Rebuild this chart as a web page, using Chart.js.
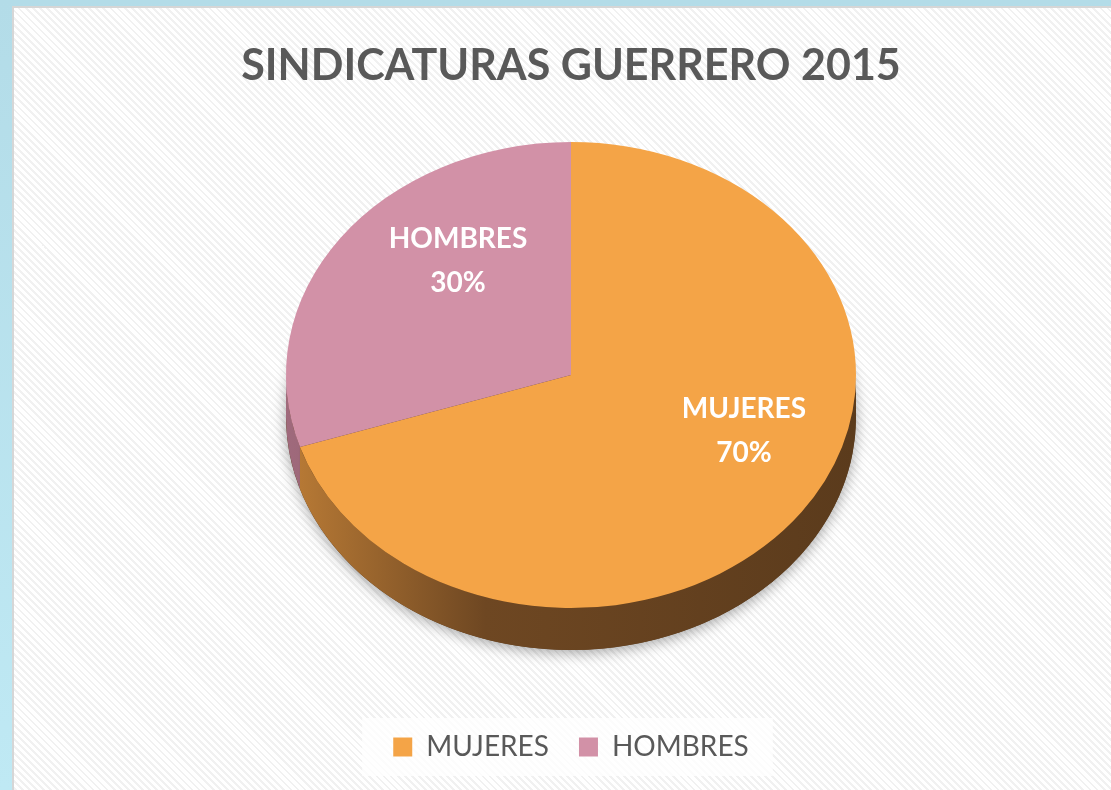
<!DOCTYPE html>
<html>
<head>
<meta charset="utf-8">
<script src="https://cdn.jsdelivr.net/npm/chart.js@4.4.1/dist/chart.umd.min.js"></script>
<style>
  html, body { margin: 0; padding: 0; }
  body {
    width: 1111px; height: 790px; overflow: hidden; position: relative;
    background: linear-gradient(180deg, #b3dce8, #bfe9f4);
  }
  #panel {
    position: absolute; left: 12px; top: 6px; width: 1101px; height: 786px;
    border-left: 2px solid #d6d6d6; border-top: 2px solid #d6d6d6;
    background: repeating-linear-gradient(45deg, #ffffff 0px, #ffffff 3px, #f1f1f1 3px, #f1f1f1 5px);
  }
  canvas { position: absolute; left: 0; top: 0; }
</style>
</head>
<body>
<div id="panel"><canvas id="pieChart" width="1097" height="782"></canvas></div>
<script>
  const categories = ['MUJERES', 'HOMBRES'];
  const shares = [70, 30];
  const sliceColors = ['#f4a447', '#d291a7'];
  // side (depth) colours for each slice: left -> middle -> right
  const sideColors = [['#bb7c36', '#6e4722', '#5b3b1c'], ['#a06a7c', '#7e5060', '#6c4352']];

  // how the flat pie is tilted into a 3D look
  const tilt = { cy: 367, squash: 233 / 285, depth: 42, labelRadius: 0.62, shiftX: 30, shiftY: -29 };

  function frontPart(start, end) {
    // part of the arc that faces the viewer (angles between 0 and PI)
    const a = Math.max(start, 0), b = Math.min(end, Math.PI);
    return b > a ? [a, b] : null;
  }

  const legendBox = {
    id: 'legendBox',
    beforeDraw(chart) {
      const hb = chart.legend.legendHitBoxes;
      if (!hb || !hb.length) return;
      const left = Math.min(...hb.map(h => h.left)) - 31;
      const right = Math.max(...hb.map(h => h.left + h.width)) + 24;
      const top = hb[0].top - 15, bottom = hb[0].top + hb[0].height + 15;
      const ctx = chart.ctx;
      ctx.save();
      ctx.fillStyle = 'rgba(255,255,255,0.8)';
      ctx.fillRect(left, top, right - left, bottom - top);
      ctx.restore();
    }
  };

  const pie3d = {
    id: 'pie3d',
    beforeDatasetsDraw(chart) {
      const ctx = chart.ctx;
      const arcs = chart.getDatasetMeta(0).data;
      const r = arcs[0].outerRadius, cx = arcs[0].x, oy = arcs[0].y;
      const cy = tilt.cy, ry = r * tilt.squash, d = tilt.depth;

      // soft shadow under the pie
      ctx.save();
      ctx.shadowColor = 'rgba(0,0,0,0.35)';
      ctx.shadowBlur = 14;
      ctx.shadowOffsetY = 3;
      ctx.fillStyle = sideColors[0][2];
      ctx.beginPath();
      ctx.ellipse(cx, cy + d, r, ry, 0, 0, Math.PI * 2);
      ctx.fill();
      ctx.restore();

      arcs.forEach((arc, i) => {
        const part = frontPart(arc.startAngle, arc.endAngle);
        if (!part) return;
        const g = ctx.createLinearGradient(cx - r, 0, cx + r, 0);
        g.addColorStop(0, sideColors[i][0]);
        g.addColorStop(0.35, sideColors[i][1]);
        g.addColorStop(1, sideColors[i][2]);
        ctx.save();
        ctx.fillStyle = g;
        ctx.beginPath();
        ctx.ellipse(cx, cy, r, ry, 0, part[0], part[1]);
        ctx.ellipse(cx, cy + d, r, ry, 0, part[1], part[0], true);
        ctx.closePath();
        ctx.fill();
        ctx.restore();
      });

      // squash the top face
      ctx.save();
      ctx.translate(0, cy - tilt.squash * oy);
      ctx.scale(1, tilt.squash);
    },
    afterDatasetsDraw(chart) {
      const ctx = chart.ctx;
      ctx.restore();
      const arcs = chart.getDatasetMeta(0).data;
      const total = shares.reduce((s, v) => s + v, 0);
      const r = arcs[0].outerRadius, cx = arcs[0].x, cy = tilt.cy;
      ctx.save();
      ctx.fillStyle = '#ffffff';
      ctx.font = 'bold 28px Lato';
      ctx.textAlign = 'center';
      ctx.textBaseline = 'middle';
      arcs.forEach((arc, i) => {
        const mid = (arc.startAngle + arc.endAngle) / 2;
        const lr = r * tilt.labelRadius;
        const x = cx + lr * Math.cos(mid) + tilt.shiftX;
        const y = cy + lr * tilt.squash * Math.sin(mid) + tilt.shiftY;
        ctx.fillText(categories[i], x, y - 22);
        ctx.fillText(Math.round(shares[i] / total * 100) + '%', x, y + 22);
      });
      ctx.restore();
    }
  };

  const ctx = document.getElementById('pieChart').getContext('2d');
  new Chart(ctx, {
    type: 'pie',
    data: {
      labels: categories,
      datasets: [{
        data: shares,
        backgroundColor: sliceColors,
        borderWidth: 0,
        radius: 285,
        clip: false
      }]
    },
    options: {
      responsive: false,
      animation: false,
      events: [],
      layout: { padding: { left: 17, right: 0, top: 0, bottom: 19 } },
      plugins: {
        title: {
          display: true,
          text: 'SINDICATURAS GUERRERO 2015',
          color: '#595959',
          font: { family: 'Lato', size: 43, weight: 'bold' },
          padding: { top: 32, bottom: 30 }
        },
        legend: {
          position: 'bottom',
          labels: {
            color: '#595959',
            font: { family: 'Lato', size: 28 },
            boxWidth: 19,
            boxHeight: 19,
            padding: 30
          }
        },
        tooltip: { enabled: false }
      }
    },
    plugins: [legendBox, pie3d]
  });
</script>
</body>
</html>
